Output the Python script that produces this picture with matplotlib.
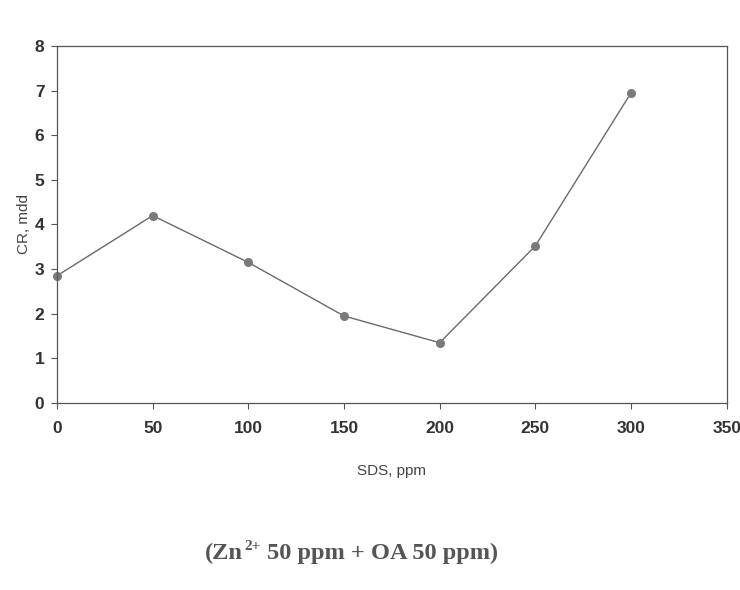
import matplotlib
matplotlib.use("Agg")
import matplotlib.pyplot as plt

sds = [0, 50, 100, 150, 200, 250, 300]
cr = [2.85, 4.2, 3.15, 1.95, 1.35, 3.52, 6.95]
xticks = [0, 50, 100, 150, 200, 250, 300, 350]
yticks = [0, 1, 2, 3, 4, 5, 6, 7, 8]

fig = plt.figure(figsize=(7.4, 5.9), dpi=100)
ax = fig.add_axes([0.077, 0.317, 0.905, 0.605])
ax.plot(sds, cr, color="#6a6a6a", lw=1.0, marker="o", ms=5.5,
        mfc="#7a7a7a", mec="#7a7a7a", clip_on=False)
ax.set_xlim(0, 350)
ax.set_ylim(0, 8)
ax.set_xticks(xticks)
ax.set_yticks(yticks)
for s in ax.spines.values():
    s.set_color("#555555")
    s.set_linewidth(0.9)
ax.tick_params(direction="out", length=4, color="#555555", labelcolor="#333333",
               labelsize=12.5)
ax.tick_params(axis="x", pad=9)
ax.tick_params(axis="y", pad=5)
for lab in ax.get_xticklabels() + ax.get_yticklabels():
    lab.set_fontfamily("Liberation Sans")
    lab.set_fontweight("bold")
ax.set_xlabel("SDS, ppm", fontsize=11, color="#444444", family="Liberation Sans", labelpad=20)
ax.set_ylabel("CR, mdd", fontsize=11, color="#444444", family="Liberation Sans", labelpad=3)

cap_kw = dict(fontweight="bold", color="#555555", family="Liberation Serif")
t1 = fig.text(205 / 740, 1 - 553 / 590, "(Zn", ha="left", va="center", fontsize=17.6, **cap_kw)
t2 = ax.annotate("2+", xy=(1, 1), xycoords=t1, xytext=(1, 2), textcoords="offset points",
                 ha="left", va="top", fontsize=11, annotation_clip=False, **cap_kw)
t3 = ax.annotate(" 50 ppm + OA 50 ppm)", xy=(1, 0), xycoords=(t2, t1), xytext=(0, 0),
                 textcoords="offset points", ha="left", va="bottom", fontsize=17.6,
                 annotation_clip=False, **cap_kw)
fig.savefig("out.png", dpi=100, facecolor="white")
